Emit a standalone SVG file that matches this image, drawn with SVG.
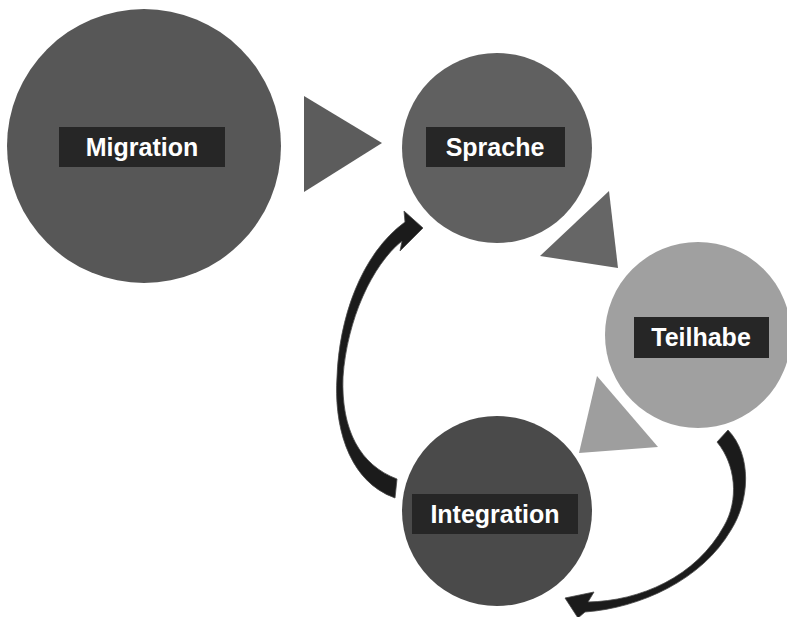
<svg xmlns="http://www.w3.org/2000/svg" width="787" height="617" viewBox="0 0 787 617">
<style>
.lbl{fill:#262626}
.txt{fill:#ffffff;font-family:"Liberation Sans",Arial,sans-serif;font-weight:bold;font-size:25px;text-anchor:middle}
.arr{fill:#1b1b1b;stroke:#4a4a4a;stroke-width:0.8;stroke-linejoin:round}
</style>
<rect width="787" height="617" fill="#ffffff"/>
<g id="connectors">
<polygon points="304,96 382,143 304,192" fill="#5c5c5c"/>
<polygon points="609,191 540,256 618,268" fill="#666666"/>
<polygon points="597,376 579,453 658,447" fill="#9e9e9e"/>
<path class="arr" d="M395,498 C345,480 334,420 337,377 C339,320 360,255 405,222 L404,211 L423,228 L400,251 L402,241 C372,265 347,320 343,377 C341,430 360,465 397,479 Z"/>
<path class="arr" d="M728,430 C752,455 750,500 731,530 C702,580 640,608 585,612 L578,618 L565,598 L594,592 L588,602 C640,601 696,577 724,526 C739,500 736,465 717,442 Z"/>
</g>
<g id="migration">
<circle cx="144" cy="146" r="137" fill="#575757"/>
<rect class="lbl" x="59" y="127" width="166" height="40"/>
<text class="txt" x="142" y="156">Migration</text>
</g>
<g id="sprache">
<circle cx="497" cy="148" r="95" fill="#606060"/>
<rect class="lbl" x="426" y="127" width="139" height="40"/>
<text class="txt" x="495" y="156">Sprache</text>
</g>
<g id="teilhabe">
<circle cx="698" cy="335" r="93" fill="#a0a0a0"/>
<rect class="lbl" x="634" y="317" width="135" height="41"/>
<text class="txt" x="701" y="346">Teilhabe</text>
</g>
<g id="integration">
<circle cx="497" cy="511" r="95" fill="#4a4a4a"/>
<rect class="lbl" x="412" y="494" width="166" height="40"/>
<text class="txt" x="495" y="523">Integration</text>
</g>
</svg>
